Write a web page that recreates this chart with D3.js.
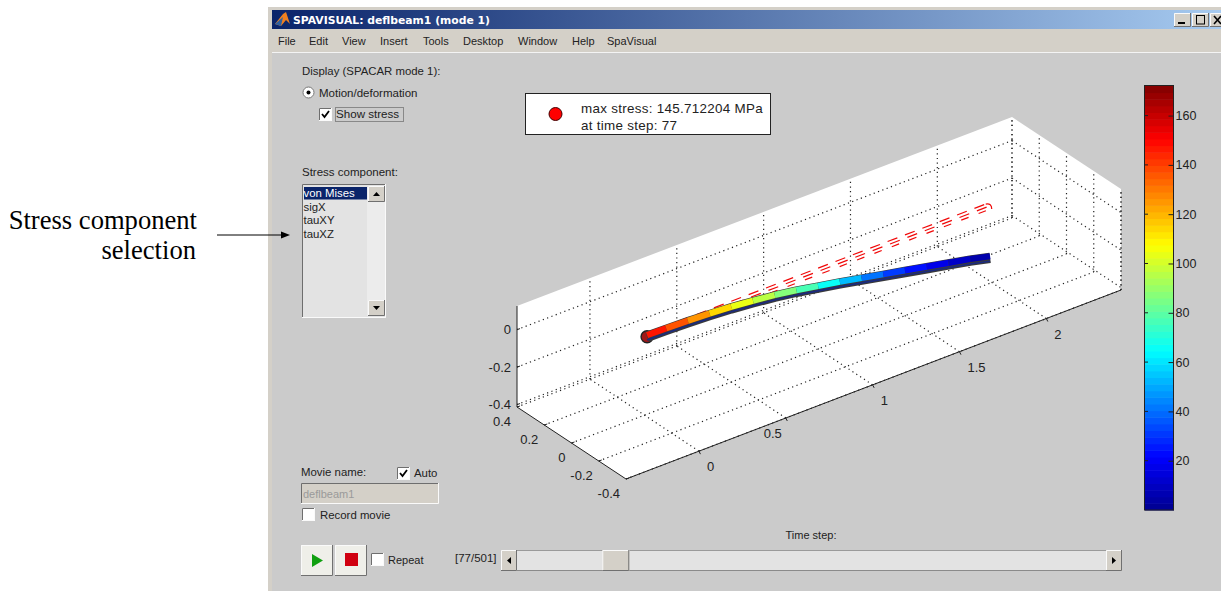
<!DOCTYPE html>
<html>
<head>
<meta charset="utf-8">
<script src="https://cdn.jsdelivr.net/npm/d3@7"></script>
<style>
  html, body { margin: 0; padding: 0; background: #fff; overflow: hidden; }
  svg { display: block; }
  text { font-family: "Liberation Sans", Arial, sans-serif; fill: #222; }
</style>
</head>
<body>
<div id="chart"></div>
<script>
// values
const xTicks = [0, 0.5, 1, 1.5, 2];
const yTicks = [-0.4, -0.2, 0, 0.2, 0.4];
const zTicks = [-0.4, -0.2, 0];
const barTicks = [20, 40, 60, 80, 100, 120, 140, 160];

const beamX = [0.015, 0.125, 0.25, 0.375, 0.5, 0.625, 0.75, 0.875, 1, 1.125, 1.25, 1.375, 1.5, 1.625, 1.75, 1.875, 1.99];
const beamZ = [0, -0.002, -0.006, -0.012, -0.02, -0.032, -0.046, -0.064, -0.086, -0.108, -0.132, -0.156, -0.18, -0.204, -0.228, -0.252, -0.278];
const beamStress = [152, 142, 131, 120, 108, 100, 92, 82, 72, 60, 46, 36, 27, 21, 14, 8, 3];
const restX = [0, 0.1, 0.2, 0.3, 0.4, 0.5, 0.6, 0.7, 0.8, 0.9, 1, 1.1, 1.2, 1.3, 1.4, 1.5, 1.6, 1.7, 1.8, 1.9];

const menuItems = ["File", "Edit", "View", "Insert", "Tools", "Desktop", "Window", "Help", "SpaVisual"];
const menuLeft = [278, 309, 342, 380, 423, 463, 518, 572, 607];
const stressItems = ["von Mises", "sigX", "tauXY", "tauXZ"];
const timeStep = 77, timeSteps = 501;

const width = 1221, height = 591;
const svg = d3.select("#chart").append("svg").attr("width", width).attr("height", height);

function label(g, x, y, str, size, anchor) {
  return g.append("text").attr("x", x).attr("y", y).attr("font-size", size || 11)
    .attr("text-anchor", anchor || "start").text(str);
}
// win2k style raised / sunken box
function bevel(g, x, y, w, h, fill, sunken) {
  g.append("rect").attr("x", x).attr("y", y).attr("width", w).attr("height", h).attr("fill", fill);
  let tl = sunken ? "#6e6e6e" : "#fafafa", br = sunken ? "#fafafa" : "#707070";
  g.append("path").attr("d", `M${x + .5},${y + h}V${y + .5}H${x + w}`).attr("fill", "none").attr("stroke", tl);
  g.append("path").attr("d", `M${x + w - .5},${y}V${y + h - .5}H${x}`).attr("fill", "none").attr("stroke", br);
}
function checkbox(g, x, y, on) {
  bevel(g, x, y, 13, 13, "#fff", true);
  if (on) g.append("path").attr("d", `M${x + 3},${y + 6}l2.5,3l4.5,-6`).attr("fill", "none")
    .attr("stroke", "#000").attr("stroke-width", 1.8);
}

// window frame
const win = svg.append("g");
win.append("rect").attr("x", 268).attr("y", 7).attr("width", 953).attr("height", 584).attr("fill", "#d4d0c8");
win.append("rect").attr("x", 272).attr("y", 52).attr("width", 949).attr("height", 539).attr("fill", "#cbcbcb");
win.append("line").attr("x1", 272).attr("x2", 1221).attr("y1", 52.5).attr("y2", 52.5).attr("stroke", "#f4f4f4");

const grad = svg.append("defs").append("linearGradient").attr("id", "title");
grad.append("stop").attr("offset", 0).attr("stop-color", "#0a246a");
grad.append("stop").attr("offset", 1).attr("stop-color", "#a6caf0");
win.append("rect").attr("x", 272).attr("y", 10).attr("width", 949).attr("height", 19).attr("fill", "url(#title)");
win.append("path").attr("d", "M275,24L283,14L286,12L290,24L286,20L281,26Z").attr("fill", "#f08020");
win.append("path").attr("d", "M275,24L283,17L281,26Z").attr("fill", "#3060a0");
label(win, 293, 24, "SPAVISUAL: deflbeam1 (mode 1)", 10.8)
  .style("font-family", "DejaVu Sans").style("fill", "#fff").attr("font-weight", "bold");

// title buttons
bevel(win, 1174, 13, 17, 14, "#d4d0c8");
bevel(win, 1192, 13, 17, 14, "#d4d0c8");
bevel(win, 1210, 13, 17, 14, "#d4d0c8");
win.append("rect").attr("x", 1178).attr("y", 22).attr("width", 7).attr("height", 2).attr("fill", "#000");
win.append("rect").attr("x", 1196.5).attr("y", 15.5).attr("width", 8).attr("height", 8.5).attr("fill", "none").attr("stroke", "#000");
win.append("path").attr("d", "M1214,16l7,8m0,-8l-7,8").attr("stroke", "#000").attr("stroke-width", 1.6);

menuItems.forEach((m, i) => label(win, menuLeft[i], 45, m, 11));

// left annotation
label(svg, 197, 229, "Stress component", 26.6, "end").style("font-family", "Liberation Serif").style("fill", "#000");
label(svg, 196, 259, "selection", 26.6, "end").style("font-family", "Liberation Serif").style("fill", "#000");
svg.append("line").attr("x1", 217).attr("x2", 282).attr("y1", 235).attr("y2", 235).attr("stroke", "#000");
svg.append("path").attr("d", "M281,231.5L290,235L281,238.5Z").attr("fill", "#000");

// controls
const ui = svg.append("g");
label(ui, 302, 75, "Display (SPACAR mode 1):", 11.4);
ui.append("circle").attr("cx", 308.5).attr("cy", 92.5).attr("r", 5.5).attr("fill", "#fff").attr("stroke", "#777");
ui.append("circle").attr("cx", 308.5).attr("cy", 92.5).attr("r", 2).attr("fill", "#000");
label(ui, 319, 97, "Motion/deformation", 11.5);
checkbox(ui, 319, 108, true);
label(ui, 336, 118, "Show stress", 11.6);
ui.append("rect").attr("x", 335.5).attr("y", 107.5).attr("width", 68).attr("height", 14).attr("fill", "none")
  .attr("stroke", "#444").attr("stroke-dasharray", "1 1");

label(ui, 302, 176, "Stress component:", 11.5);
bevel(ui, 302, 184, 84, 134, "#e3e3e3", true);
ui.append("rect").attr("x", 304).attr("y", 187).attr("width", 63).attr("height", 12.5).attr("fill", "#0a246a");
stressItems.forEach((s, i) => {
  let t = label(ui, 303.5, 197 + i * 13.7, s, 11.4);
  if (i === 0) t.style("fill", "#fff");
});
ui.append("rect").attr("x", 367).attr("y", 187).attr("width", 18).attr("height", 129).attr("fill", "#ececec");
bevel(ui, 368, 186, 17, 16, "#d4d0c8");
bevel(ui, 368, 300, 17, 16, "#d4d0c8");
ui.append("path").attr("d", "M373,196l3.5,-4l3.5,4Z").attr("fill", "#000");
ui.append("path").attr("d", "M373,306l3.5,4l3.5,-4Z").attr("fill", "#000");

label(ui, 301, 476, "Movie name:", 11.4);
checkbox(ui, 397, 467, true);
label(ui, 414, 477, "Auto", 11.4);
bevel(ui, 301, 483, 138, 21, "#d4d0c8", true);
label(ui, 303, 498, "deflbeam1", 11).style("fill", "#9a9a9a");
checkbox(ui, 302, 508, false);
label(ui, 320, 519, "Record movie", 11.4);
bevel(ui, 301, 545, 32, 31, "#efefe9");
bevel(ui, 335, 545, 32, 31, "#efefe9");
ui.append("path").attr("d", "M312,554L323,560.5L312,567Z").attr("fill", "#10a010");
ui.append("rect").attr("x", 345).attr("y", 553).attr("width", 13).attr("height", 13).attr("fill", "#d00010");
checkbox(ui, 371, 553, false);
label(ui, 388, 564, "Repeat", 11);
label(ui, 455, 562, `[${timeStep}/${timeSteps}]`, 11.5);
label(ui, 811, 539, "Time step:", 11, "middle");

// slider
const thumbW = 27;
const slider = d3.scaleLinear().domain([1, timeSteps]).range([517, 1105 - thumbW]);
ui.append("rect").attr("x", 501).attr("y", 550).attr("width", 621).attr("height", 21).attr("fill", "#e3e3e3");
ui.append("line").attr("x1", 501).attr("x2", 1122).attr("y1", 550.5).attr("y2", 550.5).attr("stroke", "#9a9a9a");
ui.append("line").attr("x1", 501).attr("x2", 1122).attr("y1", 570.5).attr("y2", 570.5).attr("stroke", "#8a8a8a");
bevel(ui, 501, 550, 16, 21, "#d4d0c8");
bevel(ui, 1106, 550, 16, 21, "#d4d0c8");
bevel(ui, slider(timeStep), 550, thumbW, 21, "#d4d0c8");
ui.append("path").attr("d", "M511,557l-4,3.5l4,3.5Z").attr("fill", "#000");
ui.append("path").attr("d", "M1112,557l4,3.5l-4,3.5Z").attr("fill", "#000");

// legend box
const leg = svg.append("g");
leg.append("rect").attr("x", 525.5).attr("y", 93.5).attr("width", 245).attr("height", 41)
  .attr("fill", "#fff").attr("stroke", "#222");
leg.append("circle").attr("cx", 555.5).attr("cy", 114).attr("r", 6.5).attr("fill", "#f00").attr("stroke", "#400");
label(leg, 581, 112.5, "max stress: 145.712204 MPa", 13.4).attr("letter-spacing", 0.3);
label(leg, 581, 129.5, "at time step: 77", 13.4).attr("letter-spacing", 0.3);

// 3d axes box: oblique projection of data coords through three scales
const xLim = [-0.42, 2.43], yLim = [-0.4, 0.4], zLim = [-0.413, 0.126];
const corner = { front: [626, 479], left: [517, 407], right: [1121, 290] };
const zPx = 101;
const sx = d3.scaleLinear().domain(xLim).range([0, 1]);
const sy = d3.scaleLinear().domain(yLim).range([0, 1]);
const sz = d3.scaleLinear().domain(zLim).range([0, zPx]);
function project(x, y, z) {
  let a = sx(x), b = sy(y);
  return [
    corner.front[0] + a * (corner.right[0] - corner.front[0]) + b * (corner.left[0] - corner.front[0]),
    corner.front[1] + a * (corner.right[1] - corner.front[1]) + b * (corner.left[1] - corner.front[1]) - sz(z)
  ];
}
const line3 = d3.line();
const ax = svg.append("g");

ax.append("path").attr("fill", "#fff").attr("d", line3([
  project(xLim[0], yLim[0], zLim[0]), project(xLim[1], yLim[0], zLim[0]), project(xLim[1], yLim[0], zLim[1]),
  project(xLim[1], yLim[1], zLim[1]), project(xLim[0], yLim[1], zLim[1]), project(xLim[0], yLim[1], zLim[0])
]) + "Z");

function dotted(p, q) {
  ax.append("path").attr("d", line3([p, q])).attr("fill", "none").attr("stroke", "#222")
    .attr("stroke-width", 1.2).attr("stroke-dasharray", "1.2 3.4");
}
xTicks.forEach(x => {
  dotted(project(x, yLim[0], zLim[0]), project(x, yLim[1], zLim[0]));
  dotted(project(x, yLim[1], zLim[0]), project(x, yLim[1], zLim[1]));
});
yTicks.forEach(y => {
  dotted(project(xLim[0], y, zLim[0]), project(xLim[1], y, zLim[0]));
  dotted(project(xLim[1], y, zLim[0]), project(xLim[1], y, zLim[1]));
});
zTicks.forEach(z => {
  dotted(project(xLim[0], yLim[1], z), project(xLim[1], yLim[1], z));
  dotted(project(xLim[1], yLim[1], z), project(xLim[1], yLim[0], z));
});
dotted(project(xLim[1], yLim[1], zLim[0]), project(xLim[1], yLim[1], zLim[1]));
dotted(project(xLim[1], yLim[0], zLim[0]), project(xLim[1], yLim[0], zLim[1]));

function solid(p, q) {
  ax.append("path").attr("d", line3([p, q])).attr("fill", "none").attr("stroke", "#222");
}
solid(project(xLim[0], yLim[0], zLim[0]), project(xLim[1], yLim[0], zLim[0]));
solid(project(xLim[0], yLim[0], zLim[0]), project(xLim[0], yLim[1], zLim[0]));
solid(project(xLim[0], yLim[1], zLim[0]), project(xLim[0], yLim[1], zLim[1]));

xTicks.forEach(x => {
  let p = project(x, yLim[0], zLim[0]);
  solid(p, [p[0] + 1.5, p[1] + 3]);
  // the 0.5 label sits further left in the original
  let dx = x === 0.5 ? -22 : 8;
  label(ax, p[0] + dx, p[1] + 20, String(x), 13);
});
yTicks.forEach(y => {
  let p = project(xLim[0], y, zLim[0]);
  solid(p, [p[0] + 3, p[1] - 1]);
  label(ax, p[0] - 6, p[1] + 19, String(y), 13, "end");
});
zTicks.forEach(z => {
  let p = project(xLim[0], yLim[1], z);
  solid(p, [p[0] + 3, p[1] - 1]);
  label(ax, p[0] - 6, p[1] + 4.5, String(z), 13, "end");
});

// jet colormap
const jetMax = 172;
const jet = d3.scaleLinear()
  .domain([0, 1 / 8, 3 / 8, 5 / 8, 7 / 8, 1].map(f => f * jetMax))
  .range(["#00008f", "#0000ff", "#00ffff", "#ffff00", "#ff0000", "#800000"]);

// undeformed beam, three short red dashes per element
const red = svg.append("g").attr("fill", "none").attr("stroke", "#f00808").attr("stroke-width", 1.2);
const restDash = [[0, 0.056, 0.018], [0.014, 0.07, 0], [0.024, 0.066, -0.018]];
restX.forEach(x => {
  restDash.forEach(d => {
    red.append("path").attr("d", line3([project(x + d[0], 0, d[2]), project(x + d[1], 0, d[2])]));
  });
});
// hook at the free end
let endP = project(1.965, 0, 0.018);
red.append("path").attr("d", `M${endP[0]},${endP[1]}q6,-1 6,5`);

// deformed beam coloured by stress
const beam = svg.append("g").attr("fill", "none");
const pts = beamX.map((x, i) => project(x, 0, beamZ[i]));
// max stress marker at the clamped end
beam.append("circle").attr("cx", pts[0][0]).attr("cy", pts[0][1]).attr("r", 6)
  .attr("fill", "#a01818").attr("stroke", "#222").attr("stroke-width", 1.4);
beam.append("path").attr("d", line3(pts)).attr("stroke", "#3a3a3a").attr("stroke-width", 10.5);
pts.slice(1).forEach((p, i) => {
  let q = pts[i];
  let c = jet((beamStress[i] + beamStress[i + 1]) / 2);
  beam.append("path").attr("d", line3([[q[0], q[1] - 1.6], [p[0], p[1] - 1.6]])).attr("stroke", c).attr("stroke-width", 6.2);
  beam.append("path").attr("d", line3([[q[0], q[1] + 3.3], [p[0], p[1] + 3.3]])).attr("stroke", "#1a2a80").attr("stroke-width", 1.6);
});

// colorbar
const barY = d3.scaleLinear().domain([0, jetMax]).range([510, 86]);
const bar = svg.append("g");
const bands = d3.range(64);
bar.selectAll("rect").data(bands).join("rect")
  .attr("x", 1145).attr("width", 29)
  .attr("y", d => barY((d + 1) * jetMax / 64))
  .attr("height", barY(0) - barY(jetMax / 64) + 0.5)
  .attr("fill", d => jet((d + 0.5) * jetMax / 64));
bar.append("rect").attr("x", 1144.5).attr("y", 85.5).attr("width", 29).attr("height", 424.5)
  .attr("fill", "none").attr("stroke", "#222");
const barAxis = bar.append("g").attr("transform", "translate(1173.5,0)")
  .call(d3.axisRight(barY).tickValues(barTicks).tickSize(2).tickPadding(0));
barAxis.select(".domain").remove();
barAxis.selectAll("line").attr("x1", -5).attr("x2", 0).attr("stroke", "#222");
barAxis.selectAll("text").attr("x", 2).attr("font-size", 12.5).style("font-family", "Liberation Sans").style("fill", "#222");
barTicks.forEach(t => bar.append("line").attr("x1", 1145).attr("x2", 1148)
  .attr("y1", barY(t)).attr("y2", barY(t)).attr("stroke", "#222"));
</script>
</body>
</html>
